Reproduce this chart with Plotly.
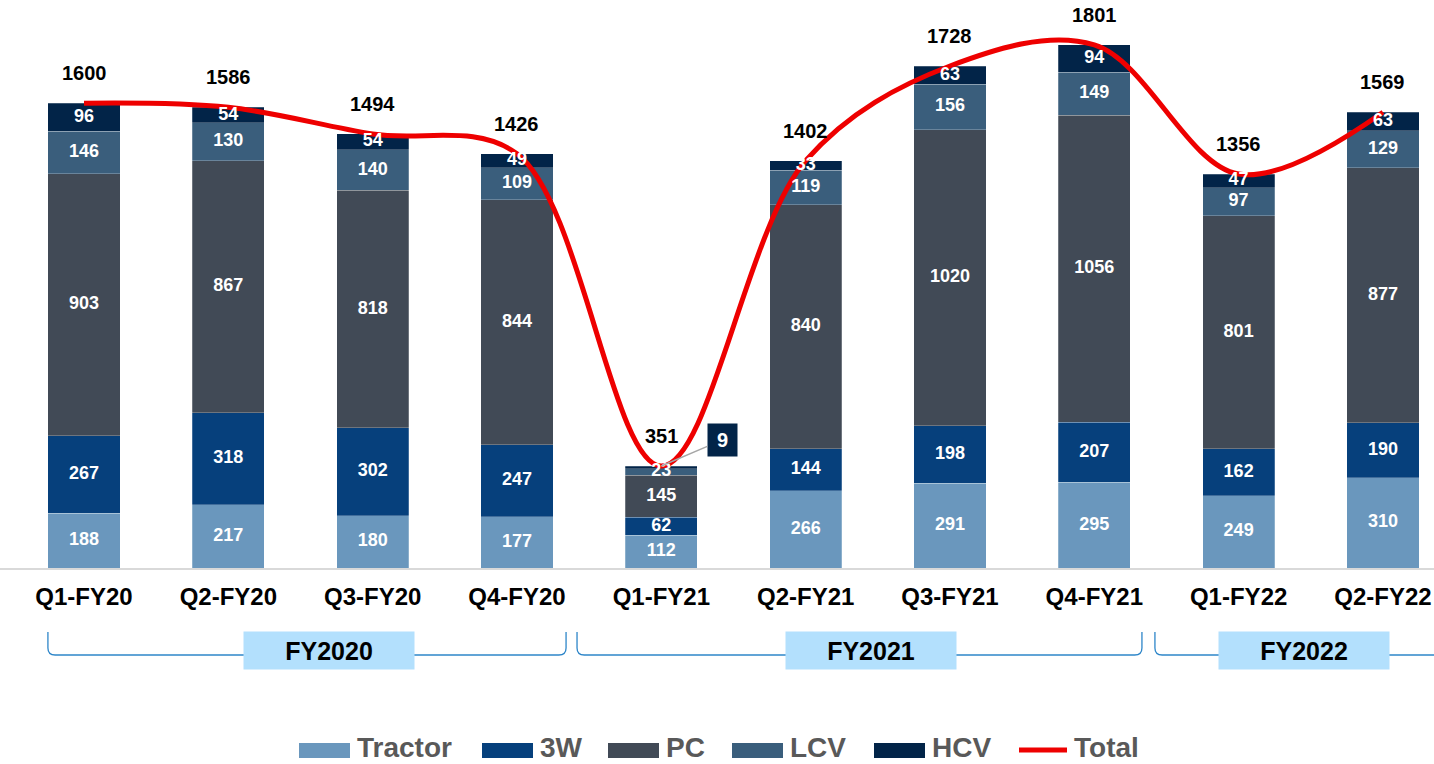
import plotly.graph_objects as go

# ---- data ----
quarters = ['Q1-FY20', 'Q2-FY20', 'Q3-FY20', 'Q4-FY20', 'Q1-FY21',
            'Q2-FY21', 'Q3-FY21', 'Q4-FY21', 'Q1-FY22', 'Q2-FY22']
tractor = [188, 217, 180, 177, 112, 266, 291, 295, 249, 310]
three_w = [267, 318, 302, 247, 62, 144, 198, 207, 162, 190]
pc = [903, 867, 818, 844, 145, 840, 1020, 1056, 801, 877]
lcv = [146, 130, 140, 109, 23, 119, 156, 149, 97, 129]
hcv = [96, 54, 54, 49, 9, 33, 63, 94, 47, 63]
total = [1600, 1586, 1494, 1426, 351, 1402, 1728, 1801, 1356, 1569]
fiscal_years = ['FY2020', 'FY2021', 'FY2022']

# HCV value of Q1-FY21 is shown in a callout instead of inside the bar
callout_idx = 4

series = [
    ('Tractor', tractor, '#6A97BD'),
    ('3W', three_w, '#06407C'),
    ('PC', pc, '#414A56'),
    ('LCV', lcv, '#3A5E7C'),
    ('HCV', hcv, '#022448'),
]
line_color = '#EE0000'

W, H = 1434, 764
plot_bottom = 568          # pixel of the category axis
FONT = 'Liberation Sans, Arial, sans-serif'

x = list(range(len(quarters)))
fig = go.Figure()

for name, vals, color in series:
    fig.add_trace(go.Bar(
        x=x, y=vals, name=name,
        marker=dict(color=color, line=dict(color='rgba(255,255,255,0.3)', width=0.8)),
        showlegend=False, hoverinfo='skip'
    ))

fig.add_trace(go.Scatter(
    x=x, y=total, name='Total', mode='lines',
    line=dict(color=line_color, width=5, shape='spline', smoothing=1.0),
    showlegend=False, hoverinfo='skip'
))

# segment labels, drawn above the line (middle of each stacked segment)
lab_x, lab_y, lab_t = [], [], []
base = [0] * len(quarters)
for name, vals, _ in series:
    for i, v in enumerate(vals):
        if not (name == 'HCV' and i == callout_idx):
            lab_x.append(i)
            lab_y.append(base[i] + v / 2)
            lab_t.append(str(v))
        base[i] += v
fig.add_trace(go.Scatter(
    x=lab_x, y=lab_y, text=lab_t, mode='text', textposition='middle center',
    textfont=dict(family=FONT, size=18, color='white', weight='bold'),
    showlegend=False, hoverinfo='skip', cliponaxis=False
))

# total labels above the bars
for i, t in enumerate(total):
    fig.add_annotation(x=i, y=t, text=f'<b>{t}</b>', showarrow=False,
                       yanchor='middle', yshift=30,
                       font=dict(family=FONT, size=20, color='black'))

# callout for the tiny HCV segment
fig.add_annotation(x=callout_idx, y=total[callout_idx], text=f'<b>{hcv[callout_idx]}</b>',
                   showarrow=True, arrowhead=0, arrowwidth=1.5, arrowcolor='#A6A6A6',
                   ax=61, ay=-26, bgcolor='#022448', width=27, height=30,
                   standoff=0, font=dict(family=FONT, size=20, color='white'))

# ---- fiscal year brackets ----
def py(pix):
    return (plot_bottom - pix) / plot_bottom

bracket_spans = [(-0.25, 3.34), (3.416, 7.33), (7.42, 9.8)]
box_centers = [1.70, 5.45, 8.45]
top, bot = py(632), py(655)
c, dx = 7 / plot_bottom, 0.05
for (xl, xr), xc, label in zip(bracket_spans, box_centers, fiscal_years):
    path = (f'M {xl},{top} L {xl},{bot + c} Q {xl},{bot} {xl + dx},{bot} '
            f'L {xr - dx},{bot} Q {xr},{bot} {xr},{bot + c} L {xr},{top}')
    fig.add_shape(type='path', path=path, xref='x', yref='paper',
                  line=dict(color='#2E86C9', width=1.3))
    fig.add_annotation(x=xc, y=py(670), xref='x', yref='paper', text=f'<b>{label}</b>',
                       showarrow=False, width=168, height=35, bgcolor='#B3E0FD',
                       font=dict(family=FONT, size=25, color='black'))

# ---- custom legend ----
legend_left = [299, 482, 608, 732, 874, 1016]
legend_items = [(n, c_) for n, _, c_ in series] + [('Total', line_color)]
for left, (name, color) in zip(legend_left, legend_items):
    if name == 'Total':
        fig.add_shape(type='line', xref='paper', yref='paper',
                      x0=(left + 3) / W, x1=(left + 51) / W, y0=py(750), y1=py(750),
                      line=dict(color=color, width=5))
    else:
        fig.add_shape(type='rect', xref='paper', yref='paper',
                      x0=left / W, x1=(left + 51) / W, y0=py(743), y1=py(758),
                      fillcolor=color, line=dict(width=0))
    fig.add_annotation(x=(left + 56) / W, y=py(747), xref='paper', yref='paper',
                       text=f'<b>{name}</b>', showarrow=False, xanchor='left',
                       yanchor='middle', font=dict(family=FONT, size=28, color='#595959'))

left_px = 84
step = 144.33
fig.update_layout(
    width=W, height=H,
    barmode='stack', bargap=0.5,
    plot_bgcolor='white', paper_bgcolor='white',
    margin=dict(l=0, r=0, t=0, b=H - plot_bottom),
    xaxis=dict(range=[-left_px / step, (W - left_px) / step],
               tickvals=x, ticktext=[f'<b>{q}</b>' for q in quarters],
               tickfont=dict(family=FONT, size=24, color='black'),
               showgrid=False, zeroline=False, showline=True,
               linecolor='#D9D9D9', linewidth=2, ticks='', ticklabelstandoff=6),
    yaxis=dict(range=[0, plot_bottom / 0.2905], visible=False, showgrid=False),
    showlegend=False,
)

fig.write_html('out.html', config={'displayModeBar': False},
               post_script="document.body.style.margin='0';")
